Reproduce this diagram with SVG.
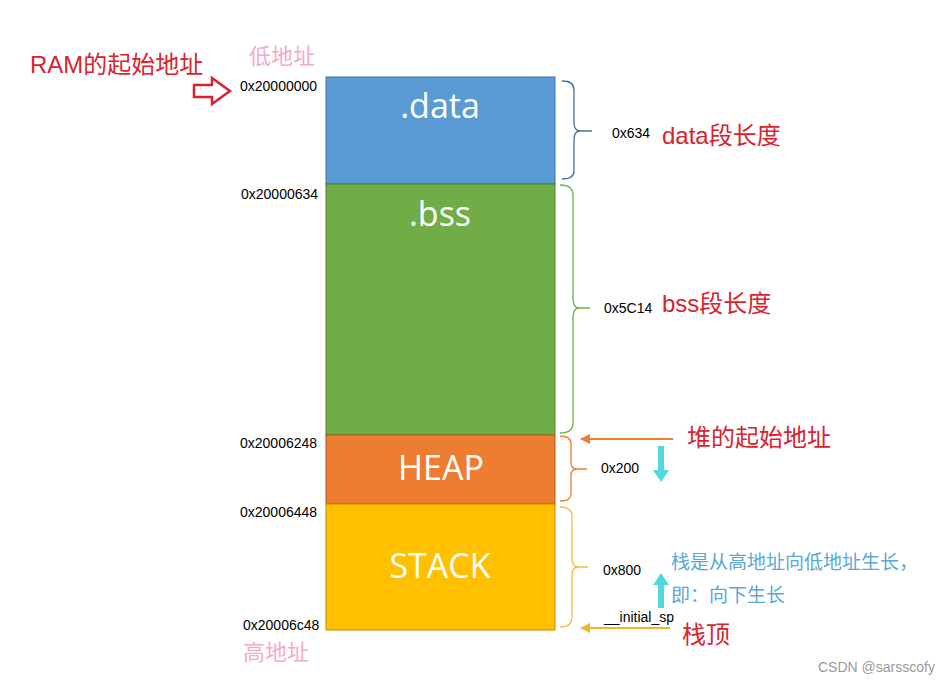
<svg xmlns="http://www.w3.org/2000/svg" width="950" height="683" viewBox="0 0 950 683">
<defs>
<style>
.addr{font-family:"Liberation Sans",Arial,sans-serif;font-size:14px;fill:#000}
.seg{font-family:"Open Sans","Liberation Sans",sans-serif;fill:#fff;text-anchor:middle}
.red{font-family:"Liberation Sans","Noto Sans CJK SC",sans-serif;font-size:24px;fill:#D8232E}
.pink{font-family:"Liberation Sans","Noto Sans CJK SC",sans-serif;font-size:22px;fill:#F2AACB}
.blue{font-family:"Liberation Sans","Noto Sans CJK SC",sans-serif;font-size:19px;fill:#5BA7D6}
.brace{fill:none;stroke-width:1.3}
</style>
<marker id="ahO" viewBox="0 0 10 10" refX="9" refY="5" markerWidth="10" markerHeight="10" markerUnits="userSpaceOnUse" orient="auto"><path d="M0,0 L10,5 L0,10 Z" fill="#ED7D31"/></marker>
<marker id="ahY" viewBox="0 0 10 10" refX="9" refY="5" markerWidth="10" markerHeight="10" markerUnits="userSpaceOnUse" orient="auto"><path d="M0,0 L10,5 L0,10 Z" fill="#F0B62A"/></marker>
</defs>
<rect width="950" height="683" fill="#fff"/>

<g id="data">
<rect x="326" y="77" width="229" height="107" fill="#5B9BD5" stroke="#41719C" stroke-width="1"/>
<text class="seg" x="440" y="118" font-size="34">.data</text>
</g>
<g id="bss">
<rect x="326" y="184" width="229" height="251" fill="#70AD47" stroke="#507E32" stroke-width="1"/>
<text class="seg" x="440" y="226" font-size="34">.bss</text>
</g>
<g id="heap">
<rect x="326" y="435" width="229" height="69" fill="#ED7D31" stroke="#AE5A21" stroke-width="1"/>
<text class="seg" x="441" y="480" font-size="34">HEAP</text>
</g>
<g id="stack">
<rect x="326" y="504" width="229" height="126" fill="#FFC000" stroke="#BC8C00" stroke-width="1"/>
<text class="seg" x="440" y="578" font-size="34">STACK</text>
</g>

<g id="addresses">
<text class="addr" x="240" y="91">0x20000000</text>
<text class="addr" x="241" y="199">0x20000634</text>
<text class="addr" x="240" y="448">0x20006248</text>
<text class="addr" x="240" y="517">0x20006448</text>
<text class="addr" x="243" y="630">0x20006c48</text>
<text class="pink" x="249" y="64">低地址</text>
<text class="pink" x="243" y="660">高地址</text>
</g>

<g id="ram-start">
<text class="red" x="30" y="73">RAM的起始地址</text>
<path d="M194,85 L212,85 L212,78 L230,91 L212,104 L212,97 L194,97 Z" fill="#fff" stroke="#D8232E" stroke-width="2.5" stroke-linejoin="miter"/>
</g>

<g id="connectors">
<path class="brace" stroke="#41719C" d="M562,81 Q574,81 574,90 L574,122 Q574,131 580,131 L592,131 M580,131 Q574,131 574,140 L574,171 Q574,179 562,179"/>
<path class="brace" stroke="#70AD47" d="M560,185 Q573,185 573,195 L573,298 Q573,308 579,308 L590,308 M579,308 Q573,308 573,318 L573,423 Q573,433 560,433"/>
<path class="brace" stroke="#ED7D31" d="M560,436 Q571,436 571,444 L571,462 Q571,469 577,469 L587,469 M577,469 Q571,469 571,476 L571,494 Q571,501 560,501"/>
<path class="brace" stroke="#F5B942" d="M560,507 Q572,507 572,517 L572,558 Q572,567 578,567 L588,567 M578,567 Q572,567 572,576 L572,617 Q572,627 560,627"/>
<line x1="673" y1="439" x2="581" y2="439" stroke="#ED7D31" stroke-width="2" marker-end="url(#ahO)"/>
<line x1="670" y1="628" x2="581" y2="628" stroke="#F0B62A" stroke-width="2" marker-end="url(#ahY)"/>
<path d="M658,446 L664,446 L664,470 L669,470 L661,482 L653,470 L658,470 Z" fill="#4FD9DF"/>
<path d="M658,608 L664,608 L664,585 L669,585 L661,573 L653,585 L658,585 Z" fill="#4FD9DF"/>
</g>

<g id="labels">
<text class="addr" x="612" y="138">0x634</text>
<text class="red" x="662" y="144">data段长度</text>
<text class="addr" x="604" y="313">0x5C14</text>
<text class="red" x="662" y="312">bss段长度</text>
<text class="red" x="687" y="446">堆的起始地址</text>
<text class="addr" x="601" y="473">0x200</text>
<text class="addr" x="603" y="575">0x800</text>
<text class="blue" x="671" y="569">栈是从高地址向低地址生长，</text>
<text class="blue" x="671" y="602">即：向下生长</text>
<text class="addr" x="604" y="622">__initial_sp</text>
<text class="red" x="682" y="643">栈顶</text>
<text x="818" y="672" font-family="Liberation Sans,Arial,sans-serif" font-size="14" fill="#9A9A9A">CSDN @sarsscofy</text>
</g>
</svg>
